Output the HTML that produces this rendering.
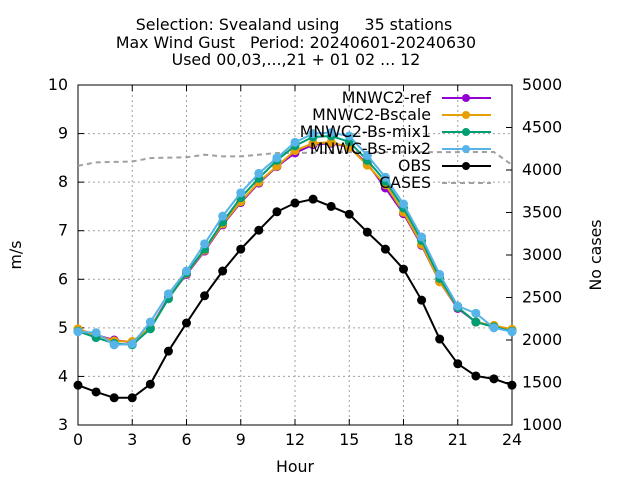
<!DOCTYPE html>
<html><head><meta charset="utf-8"><style>
body{margin:0;background:#fff}
svg{display:block;font-family:"DejaVu Sans","Liberation Sans",sans-serif}
</style></head><body>
<svg id="chart" width="640" height="480">
<g id="grid"></g>
<g id="axes"></g>
<g id="series"></g>
<g id="legend"></g>
<text x="294" y="30" text-anchor="middle" font-size="15.8" xml:space="preserve">Selection: Svealand using     35 stations</text>
<text x="296" y="48" text-anchor="middle" font-size="15.8" xml:space="preserve">Max Wind Gust   Period: 20240601-20240630</text>
<text x="296" y="65" text-anchor="middle" font-size="15.8">Used 00,03,...,21 + 01 02 ... 12</text>
<text x="295" y="472" text-anchor="middle" font-size="15.8">Hour</text>
<text transform="translate(21,255) rotate(-90)" text-anchor="middle" font-size="15.8">m/s</text>
<text transform="translate(601,255) rotate(-90)" text-anchor="middle" font-size="15.8">No cases</text>
</svg>
<script>
const hours=[0,1,2,3,4,5,6,7,8,9,10,11,12,13,14,15,16,17,18,19,20,21,22,23,24];
const xTicks=[0,3,6,9,12,15,18,21,24];
const yTicks=[3,4,5,6,7,8,9,10];
const y2Ticks=[1000,1500,2000,2500,3000,3500,4000,4500,5000];
const seriesNames=["MNWC2-ref","MNWC2-Bscale","MNWC2-Bs-mix1","MNWC-Bs-mix2","OBS"];
const seriesColors=["#9400d3","#e69f00","#009e73","#56b4e9","#000000"];
const refVals=[4.97,4.85,4.75,4.70,5.0,5.62,6.1,6.58,7.12,7.58,7.98,8.32,8.6,8.77,8.8,8.72,8.38,7.88,7.35,6.7,5.95,5.4,5.12,5.03,4.95];
const bscaleVals=[4.98,4.85,4.73,4.72,5.0,5.6,6.12,6.6,7.14,7.6,8.0,8.33,8.65,8.8,8.82,8.72,8.35,7.95,7.38,6.72,5.95,5.42,5.12,5.05,4.97];
const mix1Vals=[4.93,4.8,4.68,4.65,4.98,5.6,6.13,6.62,7.18,7.68,8.08,8.45,8.75,8.93,8.95,8.83,8.45,8.02,7.47,6.8,6.02,5.42,5.12,5.02,4.93];
const mix2Vals=[4.92,4.9,4.65,4.67,5.12,5.7,6.17,6.73,7.3,7.78,8.18,8.5,8.82,9.0,9.02,8.95,8.55,8.1,7.55,6.87,6.1,5.45,5.3,5.0,4.92];
const obsVals=[3.82,3.68,3.56,3.56,3.84,4.52,5.1,5.66,6.17,6.62,7.01,7.39,7.57,7.65,7.5,7.34,6.97,6.62,6.21,5.57,4.77,4.26,4.01,3.95,3.82];
const casesVals=[4050,4090,4095,4100,4140,4145,4150,4180,4160,4160,4180,4200,4200,4205,4205,4210,4210,4210,4210,4210,4210,4210,4212,4212,4060];
const NS="http://www.w3.org/2000/svg";
const L=78,R=512,T=85,B=425;
const xs=h=>L+(h/24)*(R-L);
const ys=v=>B-(v-3)/7*(B-T);
const y2s=v=>B-(v-1000)/4000*(B-T);
function mk(tag,attrs,parent){const e=document.createElementNS(NS,tag);for(const k in attrs)e.setAttribute(k,attrs[k]);parent.appendChild(e);return e;}
const grid=document.getElementById('grid'),axes=document.getElementById('axes'),ser=document.getElementById('series'),leg=document.getElementById('legend');
xTicks.forEach(t=>{
 if(t>0&&t<24){const g=mk('line',{x1:xs(t),x2:xs(t),y1:T,y2:B,stroke:'#a0a0a0','stroke-dasharray':'2,3'},grid);
 
 }
 mk('line',{x1:xs(t),x2:xs(t),y1:B,y2:B-6,stroke:'#000'},axes);
 mk('line',{x1:xs(t),x2:xs(t),y1:T,y2:T+6,stroke:'#000'},axes);
 const tx=mk('text',{x:xs(t),y:B+20,'text-anchor':'middle','font-size':15.8},axes);tx.textContent=t;
 
 
});
yTicks.forEach(t=>{
 if(t>3&&t<10){const g=mk('line',{x1:L,x2:R,y1:ys(t),y2:ys(t),stroke:'#a0a0a0','stroke-dasharray':'2,3'},grid);
 
 }
 mk('line',{x1:L,x2:L+6,y1:ys(t),y2:ys(t),stroke:'#000'},axes);
 const tx=mk('text',{x:L-10,y:ys(t)+5,'text-anchor':'end','font-size':15.8},axes);tx.textContent=t;
 
 
});
y2Ticks.forEach(t=>{
 mk('line',{x1:R,x2:R-6,y1:y2s(t),y2:y2s(t),stroke:'#000'},axes);
 const tx=mk('text',{x:R+10,y:y2s(t)+5,'text-anchor':'start','font-size':15.8},axes);tx.textContent=t;
 
 
});
mk('rect',{x:L,y:T,width:R-L,height:B-T,fill:'none',stroke:'#000'},axes);
const cp=mk('polyline',{points:hours.map((h,i)=>xs(h)+','+y2s(casesVals[i])).join(' '),fill:'none',stroke:'#a0a0a0','stroke-width':2,'stroke-dasharray':'5,4'},ser);


const allVals=[refVals,bscaleVals,mix1Vals,mix2Vals,obsVals];
allVals.forEach((vals,si)=>{
 const g=mk('g',{},ser);
 
 
 mk('polyline',{points:hours.map((h,i)=>xs(h)+','+ys(vals[i])).join(' '),fill:'none',stroke:seriesColors[si],'stroke-width':2},g);
 hours.forEach((h,i)=>{const c=mk('circle',{cx:xs(h),cy:ys(vals[i]),r:4.5,fill:seriesColors[si]},g);
  
  });
});
const legY=[98,115,132,149,166,183];
const legNames=seriesNames.concat(["CASES"]);
legNames.forEach((n,i)=>{
 const g=mk('g',{},leg);
 
 
 const tx=mk('text',{x:431,y:legY[i]+5,'text-anchor':'end','font-size':15.8},g);tx.textContent=n;
 if(i<5){mk('line',{x1:442,x2:491,y1:legY[i],y2:legY[i],stroke:seriesColors[i],'stroke-width':2},g);
  mk('circle',{cx:466,cy:legY[i],r:4,fill:seriesColors[i]},g);}
 else mk('line',{x1:442,x2:491,y1:legY[i],y2:legY[i],stroke:'#a0a0a0','stroke-width':2,'stroke-dasharray':'5,4'},g);
});
</script>
</body></html>
